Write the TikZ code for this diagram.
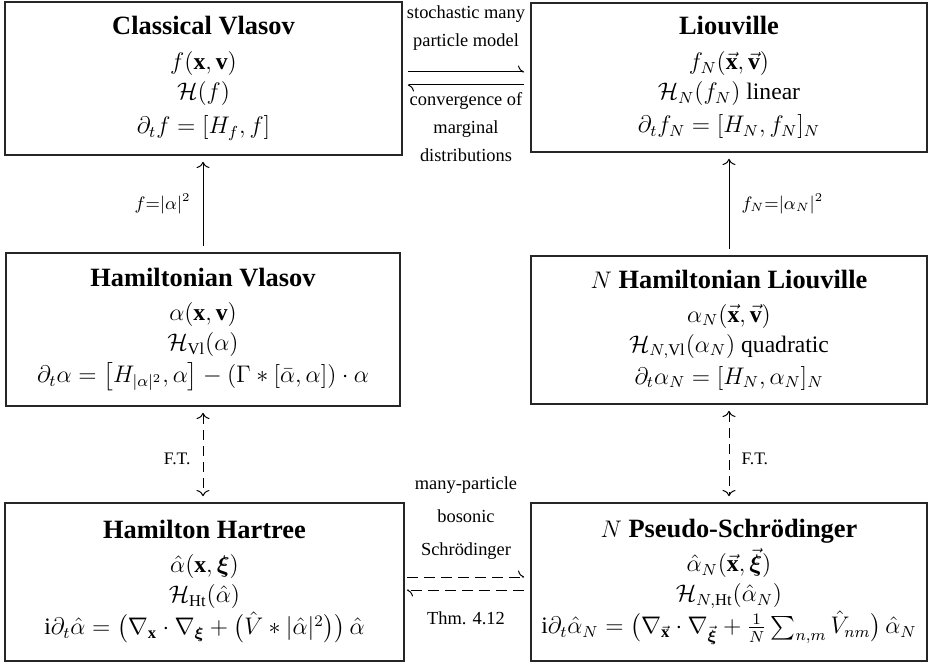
\documentclass[tikz,border=0pt]{standalone}
\usepackage{amsmath,amssymb}
\usepackage{fontspec}
\setmainfont{Liberation Serif}
\usetikzlibrary{arrows.meta,calc}
\newcommand\ttl[1]{{\fontsize{13.2}{15}\selectfont\textbf{#1}}}
\begin{document}
\begin{tikzpicture}[x=0.5pt,y=-0.5pt,
  box/.style={draw=black!85,line width=0.8pt,inner sep=0pt,align=center,
    font=\fontsize{11.8}{15}\selectfont},
  lbl/.style={inner sep=0pt,align=center,font=\fontsize{9.2}{14}\selectfont},
  slbl/.style={inner sep=0pt,font=\fontsize{8.8}{10}\selectfont},
  arr/.style={line width=0.5pt,-{Computer Modern Rightarrow[scale=1.15]}},
  darr/.style={line width=0.5pt,dash pattern=on 5pt off 3pt,
    {Computer Modern Rightarrow[scale=1.15]}-{Computer Modern Rightarrow[scale=1.15]}},
  harp/.style={line width=0.5pt,-{Computer Modern Rightarrow[left,scale=1.15]}},
]
\useasboundingbox (0,0) rectangle (929,662);
\node[box,minimum width=198.5pt,minimum height=76.5pt] (CV) at (203.5,78.5)
  {\ttl{Classical Vlasov}\\[2.5pt] $f(\mathbf{x},\mathbf{v})$\\ $\mathcal{H}(f)$\\[2pt]
   $\partial_t f=\left[H_f,f\right]$};
\node[box,minimum width=198pt,minimum height=74.5pt] (L) at (729,77.5)
  {\ttl{Liouville}\\[2.5pt] $f_N(\vec{\mathbf{x}},\vec{\mathbf{v}})$\\ $\mathcal{H}_N(f_N)$ linear\\[1.5pt]
   $\partial_t f_N=[H_N,f_N]_N$};
\node[box,minimum width=197pt,minimum height=76.5pt] (HV) at (203,329.5)
  {\ttl{Hamiltonian Vlasov}\\[2pt] $\alpha(\mathbf{x},\mathbf{v})$\\ $\mathcal{H}_{\mathrm{Vl}}(\alpha)$\\[1pt]
   $\partial_t\alpha=\left[H_{|\alpha|^2},\alpha\right]-(\Gamma*[\bar\alpha,\alpha])\cdot\alpha$};
\node[box,minimum width=198pt,minimum height=74pt] (NHL) at (729,330)
  {\ttl{$N$ Hamiltonian Liouville}\\[2pt] $\alpha_N(\vec{\mathbf{x}},\vec{\mathbf{v}})$\\
   $\mathcal{H}_{N,\mathrm{Vl}}(\alpha_N)$ quadratic\\[1pt] $\partial_t\alpha_N=[H_N,\alpha_N]_N$};
\node[box,minimum width=199.5pt,minimum height=79pt] (HH) at (204.5,582)
  {\ttl{Hamilton Hartree}\\[2pt] $\hat\alpha(\mathbf{x},\boldsymbol{\xi})$\\ $\mathcal{H}_{\mathrm{Ht}}(\hat\alpha)$\\[1pt]
   $\mathrm{i}\partial_t\hat\alpha=\bigl(\nabla_{\mathbf{x}}\cdot\nabla_{\boldsymbol{\xi}}+\bigl(\hat V*|\hat\alpha|^2\bigr)\bigr)\,\hat\alpha$};
\node[box,minimum width=198pt,minimum height=79pt] (NPS) at (729,582)
  {\ttl{$N$ Pseudo-Schrödinger}\\[2pt] $\hat\alpha_N(\vec{\mathbf{x}},\vec{\boldsymbol{\xi}})$\\
   $\mathcal{H}_{N,\mathrm{Ht}}(\hat\alpha_N)$\\[1pt]
   $\mathrm{i}\partial_t\hat\alpha_N=\bigl(\nabla_{\vec{\mathbf{x}}}\cdot\nabla_{\vec{\boldsymbol{\xi}}}+\tfrac{1}{N}\textstyle\sum_{n,m}\hat V_{nm}\bigr)\,\hat\alpha_N$};
% vertical arrows
\draw[arr,shorten <=3pt,shorten >=3pt] (HV.north) -- (HV.north |- CV.south)
  node[slbl,midway,left=6pt] (l1) {$f{=}|\alpha|^2$};
\draw[arr,shorten <=3pt,shorten >=3pt] (NHL.north) -- (NHL.north |- L.south)
  node[slbl,midway,right=6pt] (l2) {$f_N{=}|\alpha_N|^2$};
\draw[darr,shorten <=3pt,shorten >=3pt] (HV.south) -- (HV.south |- HH.north)
  node[slbl,pos=0.55,left=6pt] (l3) {F.T.};
\draw[darr,shorten <=3pt,shorten >=3pt] (NHL.south) -- (NHL.south |- NPS.north)
  node[slbl,pos=0.55,right=6pt] (l4) {F.T.};
% horizontal harpoons
\coordinate (a1) at ($(CV.east)+(0,-6.5)$);
\coordinate (a2) at ($(CV.east)+(0,6.5)$);
\draw[harp,shorten <=2.5pt,shorten >=3pt] (a1) -- (a1 -| L.west);
\draw[harp,shorten <=3pt,shorten >=2.5pt] (a2 -| L.west) -- (a2);
\coordinate (b1) at (HH.east |- 0,577);
\coordinate (b2) at (HH.east |- 0,590);
\draw[harp,dash pattern=on 5.5pt off 3pt,shorten <=1pt,shorten >=3pt] (b1) -- (b1 -| NPS.west);
\draw[harp,dash pattern=on 5.5pt off 3pt,shorten <=3pt,shorten >=1pt] (b2 -| NPS.west) -- (b2);
% labels
\node[lbl] (t1) at (466,28) {stochastic many\\ particle model};
\node[lbl] (t2) at (466,127.5) {convergence of\\ marginal\\ distributions};
\node[lbl,font=\fontsize{9.2}{16.5}\selectfont] (t3) at (466,518.5) {many-particle\\ bosonic\\ Schrödinger};
\node[lbl] (t4) at (466,618) {Thm. 4.12};
\end{tikzpicture}
\end{document}
